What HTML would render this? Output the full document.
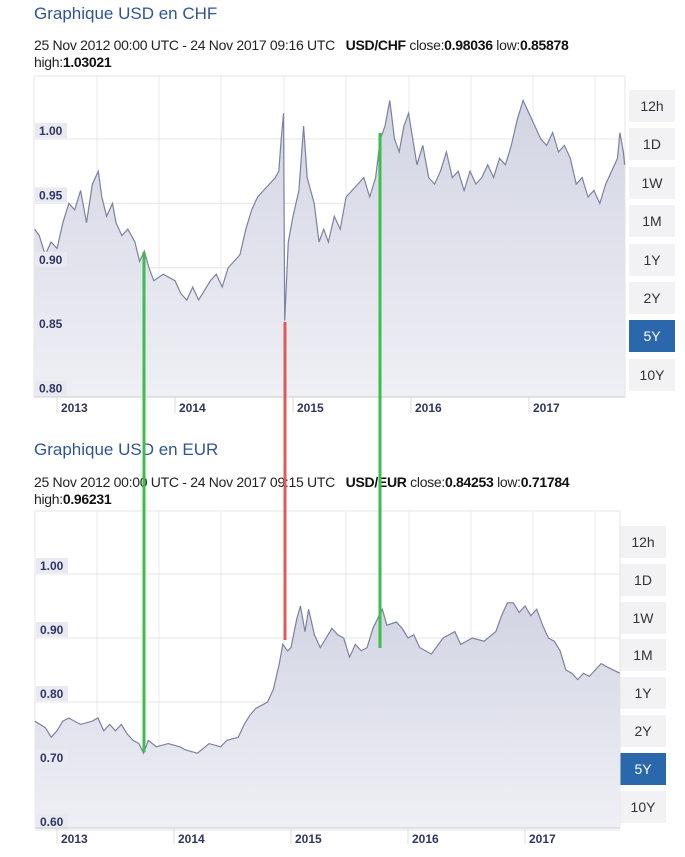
<!DOCTYPE html>
<html><head><meta charset="utf-8">
<style>
body{margin:0;width:685px;height:857px;background:#fff;font-family:"Liberation Sans",sans-serif;position:relative;overflow:hidden}
.title{position:absolute;left:34px;font-size:17px;color:#2f5597}
.sub{position:absolute;left:34px;font-size:14px;letter-spacing:-0.3px;color:#222;line-height:17px}
.sub b{color:#111}
.btn{position:absolute;width:46px;height:32px;background:#f2f2f4;color:#333;font-size:14px;text-align:center;line-height:32px}
.btn.on{background:#2b67ab;color:#fff}
svg{position:absolute;left:0;top:0}
</style></head><body>
<div class="title" style="top:4px">Graphique USD en CHF</div>
<div class="sub" style="top:37px">25 Nov 2012 00:00 UTC - 24 Nov 2017 09:16 UTC &nbsp;&nbsp;<b>USD/CHF</b> close:<b>0.98036</b> low:<b>0.85878</b><br>high:<b>1.03021</b></div>
<div class="title" style="top:440px">Graphique USD en EUR</div>
<div class="sub" style="top:474px">25 Nov 2012 00:00 UTC - 24 Nov 2017 09:15 UTC &nbsp;&nbsp;<b>USD/EUR</b> close:<b>0.84253</b> low:<b>0.71784</b><br>high:<b>0.96231</b></div>
<div id="btns1"></div><div id="btns2"></div>
<svg id="c1" width="685" height="857"></svg>
<svg id="c2" width="685" height="857"></svg>
<svg id="ov" width="685" height="857"></svg>
<script>
const chfT=[2012.81,2012.85,2012.9,2012.95,2013.0,2013.05,2013.1,2013.15,2013.2,2013.25,2013.3,2013.35,2013.38,2013.42,2013.47,2013.5,2013.55,2013.6,2013.66,2013.7,2013.74,2013.78,2013.82,2013.9,2014.0,2014.05,2014.1,2014.15,2014.2,2014.3,2014.35,2014.4,2014.45,2014.5,2014.55,2014.6,2014.65,2014.7,2014.75,2014.8,2014.85,2014.88,2014.9,2014.92,2014.93,2014.96,2015.0,2015.05,2015.09,2015.12,2015.18,2015.22,2015.26,2015.3,2015.35,2015.4,2015.45,2015.5,2015.55,2015.6,2015.65,2015.7,2015.74,2015.78,2015.82,2015.86,2015.9,2015.94,2015.98,2016.05,2016.1,2016.15,2016.2,2016.25,2016.3,2016.35,2016.4,2016.45,2016.5,2016.55,2016.6,2016.65,2016.7,2016.75,2016.8,2016.85,2016.9,2016.95,2017.0,2017.05,2017.1,2017.15,2017.2,2017.25,2017.3,2017.35,2017.4,2017.45,2017.5,2017.55,2017.6,2017.65,2017.7,2017.75,2017.77,2017.8,2017.81];
const chfV=[0.93,0.925,0.91,0.92,0.915,0.935,0.95,0.945,0.96,0.935,0.965,0.975,0.955,0.94,0.95,0.935,0.925,0.93,0.92,0.905,0.913,0.9,0.89,0.895,0.89,0.88,0.875,0.885,0.875,0.89,0.895,0.885,0.9,0.905,0.91,0.93,0.945,0.955,0.96,0.965,0.97,0.975,1.0,1.02,0.859,0.92,0.94,0.96,1.01,0.97,0.95,0.92,0.93,0.92,0.94,0.93,0.955,0.96,0.965,0.97,0.955,0.97,1.0,1.01,1.03,1.0,0.99,1.01,1.02,0.98,0.995,0.97,0.965,0.975,0.99,0.97,0.975,0.96,0.975,0.965,0.97,0.98,0.97,0.985,0.98,0.995,1.015,1.03,1.02,1.01,1.0,0.995,1.005,0.99,0.995,0.985,0.965,0.97,0.955,0.96,0.95,0.965,0.975,0.985,1.005,0.99,0.98];
const chfTicks=["1.00","0.95","0.90","0.85","0.80"];
const eurT=[2012.81,2012.9,2012.95,2013.0,2013.05,2013.1,2013.2,2013.3,2013.35,2013.4,2013.45,2013.5,2013.55,2013.6,2013.65,2013.7,2013.74,2013.78,2013.85,2013.95,2014.05,2014.1,2014.2,2014.3,2014.4,2014.45,2014.55,2014.6,2014.65,2014.7,2014.75,2014.8,2014.85,2014.9,2014.93,2014.97,2015.0,2015.05,2015.08,2015.12,2015.15,2015.2,2015.25,2015.3,2015.35,2015.4,2015.45,2015.5,2015.55,2015.6,2015.65,2015.7,2015.74,2015.78,2015.82,2015.9,2015.95,2016.0,2016.05,2016.1,2016.2,2016.3,2016.4,2016.45,2016.55,2016.65,2016.75,2016.8,2016.85,2016.9,2016.95,2017.0,2017.05,2017.1,2017.15,2017.2,2017.25,2017.3,2017.35,2017.4,2017.45,2017.5,2017.55,2017.6,2017.65,2017.7,2017.81];
const eurV=[0.77,0.76,0.745,0.755,0.77,0.775,0.765,0.77,0.775,0.755,0.765,0.755,0.765,0.75,0.74,0.735,0.72,0.74,0.73,0.735,0.73,0.725,0.72,0.735,0.73,0.74,0.745,0.765,0.78,0.79,0.795,0.8,0.82,0.86,0.89,0.88,0.885,0.93,0.95,0.91,0.945,0.905,0.885,0.9,0.915,0.905,0.9,0.87,0.89,0.88,0.885,0.915,0.93,0.945,0.92,0.925,0.915,0.9,0.905,0.885,0.875,0.9,0.91,0.89,0.9,0.895,0.91,0.935,0.955,0.955,0.94,0.95,0.935,0.945,0.92,0.9,0.895,0.88,0.85,0.845,0.835,0.845,0.84,0.85,0.86,0.855,0.845];
const eurTicks=["1.00","0.90","0.80","0.70","0.60"];
const years=["2013","2014","2015","2016","2017"];
const btnLabels=["12h","1D","1W","1M","1Y","2Y","5Y","10Y"];
const NS="http://www.w3.org/2000/svg";
function mk(p,tag,a){const e=document.createElementNS(NS,tag);for(const k in a)e.setAttribute(k,a[k]);p.appendChild(e);return e;}
function chart(svg,cfg,T,V,ticks){
  const X=t=>cfg.x2013+(t-2013)*cfg.perYear;
  const Y=v=>cfg.yTop+(cfg.vTop-v)*cfg.perUnit;
  const defs=mk(svg,'defs',{});
  const g=mk(defs,'linearGradient',{id:'g'+svg.id,x1:0,y1:0,x2:0,y2:1});
  mk(g,'stop',{offset:'0','stop-color':'#d2d4e3'});mk(g,'stop',{offset:'1','stop-color':'#eff0f5'});
  const frame=mk(svg,'rect',{x:cfg.l,y:cfg.t,width:cfg.r-cfg.l,height:cfg.b-cfg.t,fill:'#fff',stroke:'#e6e6e6'});
  
  cfg.vgrid.forEach(x=>mk(svg,'line',{x1:x,x2:x,y1:cfg.t,y2:cfg.b,stroke:'#e8e8e8'}));
  ticks.forEach(s=>{const y=Y(parseFloat(s));mk(svg,'line',{x1:cfg.l,x2:cfg.r,y1:y,y2:y,stroke:'#e4e4e4'});});
  let d='M'+X(T[0])+','+Y(V[0]);for(let i=1;i<T.length;i++)d+=' L'+X(T[i]).toFixed(1)+','+Y(V[i]).toFixed(1);
  const area=mk(svg,'path',{d:d+' L'+X(T[T.length-1])+','+cfg.b+' L'+X(T[0])+','+cfg.b+'Z',fill:'url(#g'+svg.id+')'});
  
  const line=mk(svg,'path',{d:d,fill:'none',stroke:'#7c819f','stroke-width':1.2});
  
  ticks.forEach(s=>{const y=Y(parseFloat(s));
    mk(svg,'rect',{x:cfg.l+1,y:y-16,width:32,height:15,fill:'#e9eaf1'});
    const tx=mk(svg,'text',{x:cfg.l+5,y:y-4,'font-size':12,'font-weight':'bold',fill:'#2f3563','font-family':'Liberation Sans'});tx.textContent=s;
    });
  mk(svg,'line',{x1:cfg.l,x2:cfg.r,y1:cfg.b,y2:cfg.b,stroke:'#ccc'});
  years.forEach(s=>{const x=X(parseFloat(s));mk(svg,'line',{x1:x,x2:x,y1:cfg.b,y2:cfg.b+16,stroke:'#ddd'});
    const tx=mk(svg,'text',{x:x+4,y:cfg.b+15,'font-size':12,'font-weight':'bold',fill:'#2f3563','font-family':'Liberation Sans'});tx.textContent=s;
    });
}
chart(document.getElementById('c1'),{l:34,r:625,t:76,b:397,x2013:57,perYear:118,yTop:139,vTop:1.0,perUnit:1288,vgrid:[97,159,221,284,346,409,471,533,595]},chfT,chfV,chfTicks);
chart(document.getElementById('c2'),{l:35,r:620,t:511,b:828,x2013:57,perYear:117,yTop:574,vTop:1.0,perUnit:640,vgrid:[97,159,221,284,346,409,471,533,595]},eurT,eurV,eurTicks);
function btns(id,x,y0,step){const c=document.getElementById(id);
  btnLabels.forEach((s,i)=>{const b=document.createElement('div');b.className='btn'+(s==='5Y'?' on':'');
    b.style.left=x+'px';b.style.top=(y0+i*step)+'px';b.textContent=s;
    
    
    c.appendChild(b);});}
btns('btns1',629,90,38.4);btns('btns2',620,526,37.8);
const ov=document.getElementById('ov');
[[144,252,752,'#3dbd4c'],[285,322,640,'#e05a5a'],[380,133,648,'#3dbd4c']].forEach(a=>{
  const l=mk(ov,'line',{x1:a[0],x2:a[0],y1:a[1],y2:a[2],stroke:a[3],'stroke-width':3});
  });
</script>
</body></html>
